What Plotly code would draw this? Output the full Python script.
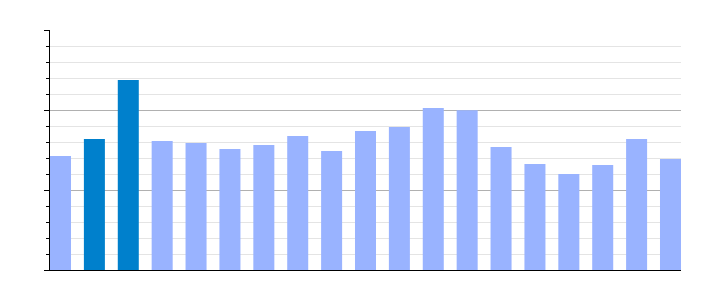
import plotly.graph_objects as go

categories = list(range(19))
values = [7.12, 8.19, 11.88, 8.06, 7.94, 7.56, 7.81, 8.38, 7.44, 8.69,
          8.94, 10.12, 9.98, 7.69, 6.62, 6.0, 6.56, 8.19, 6.94]
highlight = [1, 2]

light = "#99b3ff"
dark = "#0080cc"
colors = [dark if i in highlight else light for i in categories]

fig = go.Figure(go.Bar(x=categories, y=values, marker_color=colors,
                       marker_line_width=0, width=0.62))

fig.update_layout(
    width=710, height=300,
    margin=dict(l=50, r=29, t=30, b=30),
    paper_bgcolor="white", plot_bgcolor="white",
    showlegend=False,
)
fig.update_xaxes(range=[-0.31, 18.31], showticklabels=False, ticks="",
                 showgrid=False, zeroline=False, showline=True,
                 linecolor="black", linewidth=1)
fig.update_yaxes(range=[0, 15], dtick=5, showticklabels=False,
                 ticks="outside", ticklen=5, tickcolor="black", tickwidth=1,
                 showgrid=True, gridcolor="#b0b0b0", gridwidth=1,
                 zeroline=False, showline=True, linecolor="black", linewidth=1,
                 minor=dict(dtick=1, showgrid=True, gridcolor="#e4e4e4",
                            ticks="outside", ticklen=3, tickcolor="black",
                            tickwidth=1))

fig.write_html("out.html")
